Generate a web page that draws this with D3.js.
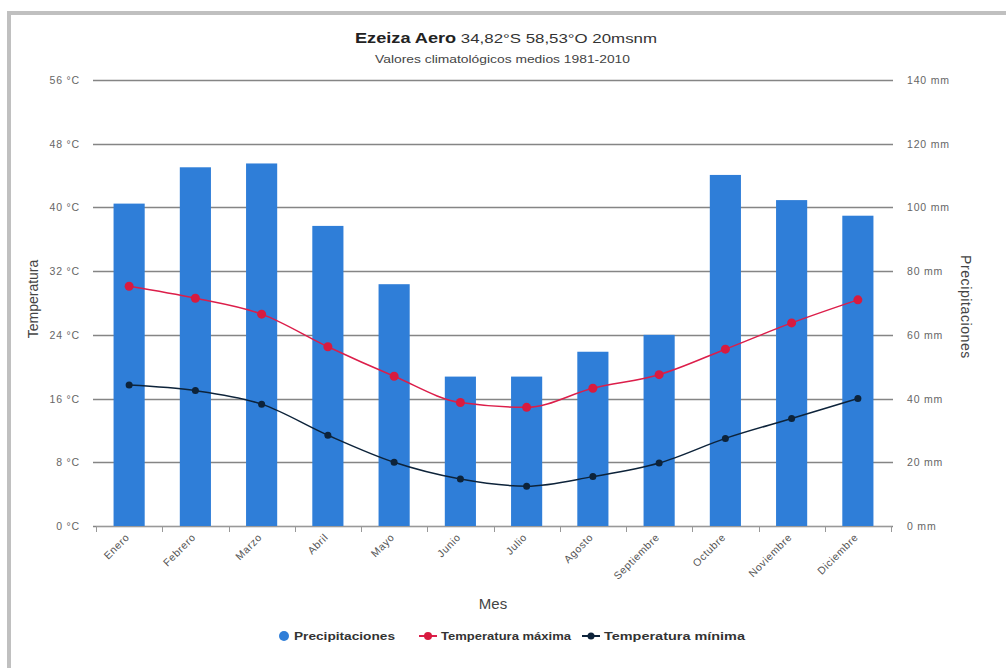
<!DOCTYPE html>
<html><head><meta charset="utf-8">
<script src="https://cdn.jsdelivr.net/npm/d3@7"></script>
<style>
html,body{margin:0;padding:0;background:#fff;}
svg{display:block;font-family:"Liberation Sans",Arial,sans-serif;}
</style></head>
<body>
<svg id="chart" width="1006" height="668"></svg>
<script>
const months = ["Enero","Febrero","Marzo","Abril","Mayo","Junio","Julio","Agosto","Septiembre","Octubre","Noviembre","Diciembre"];
const precip = [101.2, 112.6, 113.8, 94.2, 75.9, 46.9, 46.9, 54.7, 60.0, 110.2, 102.3, 97.4];
const tmax = [30.1, 28.6, 26.6, 22.5, 18.8, 15.5, 14.9, 17.3, 19.0, 22.2, 25.5, 28.4];
const tmin = [17.7, 17.0, 15.3, 11.4, 8.0, 5.9, 5.0, 6.2, 7.9, 11.0, 13.5, 16.0];
const tempTicks = [0, 8, 16, 24, 32, 40, 48, 56];
const precTicks = [0, 20, 40, 60, 80, 100, 120, 140];

const svg = d3.select("#chart");
// frame
svg.append("rect").attr("x",9).attr("y",13).attr("width",1100).attr("height",800)
  .attr("fill","none").attr("stroke","#c0c0c0").attr("stroke-width",4);

const L = 96, R = 891, T = 80, B = 526;
const x = d3.scaleBand().domain(months).range([L, R]).paddingInner(0.53).paddingOuter(0.265);
const xb = d3.scaleBand().domain(months).range([L, R]);
const yT = d3.scaleLinear().domain([0, 56]).range([B, T]);
const yP = d3.scaleLinear().domain([0, 140]).range([B, T]);

// title
const title = svg.append("text").attr("x", 355).attr("y", 43)
  .attr("font-size", 14).attr("fill","#222")
  .attr("textLength", 302).attr("lengthAdjust","spacingAndGlyphs");
title.append("tspan").attr("font-weight","bold").text("Ezeiza Aero");
title.append("tspan").attr("font-size", 13).attr("fill","#333").text(" 34,82°S 58,53°O  20msnm");
svg.append("text").attr("x", 375).attr("y", 63)
  .attr("font-size", 10.5).attr("fill","#444")
  .attr("textLength", 255).attr("lengthAdjust","spacingAndGlyphs")
  .text("Valores climatológicos medios 1981-2010");

// gridlines
svg.append("g").selectAll("line").data(tempTicks).join("line")
  .attr("x1", L - 3).attr("x2", R + 2)
  .attr("y1", d => Math.round(yT(d)) + 0.5).attr("y2", d => Math.round(yT(d)) + 0.5)
  .attr("stroke", "#858585").attr("stroke-width", 1.5);

// left axis labels
svg.append("g").selectAll("text").data(tempTicks).join("text")
  .attr("x", 80).attr("y", d => yT(d) + 4).attr("text-anchor","end")
  .attr("font-size", 10.5).attr("letter-spacing", 0.8).attr("fill","#666").text(d => d + " °C");
// right axis labels
svg.append("g").selectAll("text").data(precTicks).join("text")
  .attr("x", 907).attr("y", d => yP(d) + 4).attr("text-anchor","start")
  .attr("font-size", 10.5).attr("letter-spacing", 0.8).attr("fill","#666").text(d => d + " mm");

// axis titles
svg.append("text").attr("transform", `translate(38,${(T+B)/2 - 4}) rotate(-90)`).attr("text-anchor","middle")
  .attr("font-size", 14).attr("fill","#444").text("Temperatura");
svg.append("text").attr("transform", `translate(961,${(T+B)/2 + 4}) rotate(90)`).attr("text-anchor","middle")
  .attr("font-size", 14).attr("letter-spacing", 0.6).attr("fill","#444").text("Precipitaciones");

// bars
svg.append("g").selectAll("rect").data(months).join("rect")
  .attr("x", d => x(d)).attr("width", x.bandwidth())
  .attr("y", (d,i) => yP(precip[i])).attr("height", (d,i) => B - yP(precip[i]))
  .attr("fill", "#2f7ed8");

// x axis
const xa = svg.append("g");
xa.append("line").attr("x1", L).attr("x2", R).attr("y1", B + 0.5).attr("y2", B + 0.5)
  .attr("stroke","#999").attr("stroke-width",1);
const tickPos = months.map(m => xb(m)).concat([R]);
xa.selectAll("line.t").data(tickPos).join("line").attr("class","t")
  .attr("x1", d => Math.round(d) + 0.5).attr("x2", d => Math.round(d) + 0.5)
  .attr("y1", B).attr("y2", B + 6).attr("stroke","#999");
xa.selectAll("text").data(months).join("text")
  .attr("transform", d => `translate(${xb(d) + xb.bandwidth()/2 + 1},${B + 12}) rotate(-45)`)
  .attr("text-anchor","end").attr("font-size", 10.5).attr("letter-spacing", 0.6).attr("fill","#555").text(d => d);
svg.append("text").attr("x", 493).attr("y", 609).attr("text-anchor","middle")
  .attr("font-size", 15).attr("fill","#444").text("Mes");

// lines
const cx = i => xb(months[i]) + xb.bandwidth()/2;
const line = d3.line().x((d,i) => cx(i)).y(d => yT(d)).curve(d3.curveMonotoneX);
svg.append("path").datum(tmax).attr("d", line).attr("fill","none").attr("stroke","#dc1e4a").attr("stroke-width",1.5);
svg.append("path").datum(tmin).attr("d", line).attr("fill","none").attr("stroke","#0d233a").attr("stroke-width",1.5);
svg.append("g").selectAll("circle").data(tmax).join("circle")
  .attr("cx", (d,i) => cx(i)).attr("cy", d => yT(d)).attr("r", 4.5).attr("fill","#d81b3f");
svg.append("g").selectAll("circle").data(tmin).join("circle")
  .attr("cx", (d,i) => cx(i)).attr("cy", d => yT(d)).attr("r", 3.5).attr("fill","#0d233a");

// legend
const lg = svg.append("g").attr("font-size", 11).attr("font-weight","bold").attr("fill","#333");
lg.append("circle").attr("cx", 284).attr("cy", 636).attr("r", 5).attr("fill","#2f7ed8");
lg.append("text").attr("x", 294).attr("y", 640).attr("textLength", 101).attr("lengthAdjust","spacingAndGlyphs").text("Precipitaciones");
lg.append("line").attr("x1", 419).attr("x2", 437).attr("y1", 636).attr("y2", 636).attr("stroke","#dc1e4a").attr("stroke-width",2);
lg.append("circle").attr("cx", 428).attr("cy", 636).attr("r", 4).attr("fill","#d81b3f");
lg.append("text").attr("x", 441).attr("y", 640).attr("textLength", 130).attr("lengthAdjust","spacingAndGlyphs").text("Temperatura máxima");
lg.append("line").attr("x1", 582).attr("x2", 600).attr("y1", 636).attr("y2", 636).attr("stroke","#0d233a").attr("stroke-width",2);
lg.append("circle").attr("cx", 591).attr("cy", 636).attr("r", 3.5).attr("fill","#0d233a");
lg.append("text").attr("x", 604).attr("y", 640).attr("textLength", 141).attr("lengthAdjust","spacingAndGlyphs").text("Temperatura mínima");
</script>
</body></html>
